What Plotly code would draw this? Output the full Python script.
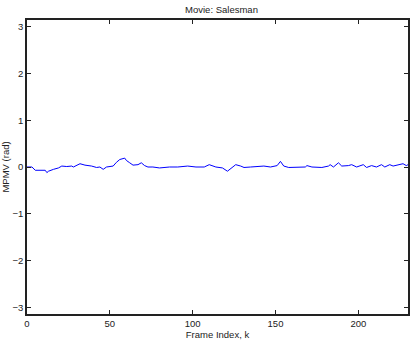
import plotly.graph_objects as go

frame_k = [0, 3, 5, 8, 11, 12, 13, 16, 19, 21, 24, 27, 28, 32, 35, 39, 42, 44, 46, 48,
           52, 54, 56, 59, 60, 62, 64, 67, 69, 71, 73, 76, 80, 86, 91, 97, 102, 107, 110,
           114, 118, 121, 124, 126, 129, 131, 135, 143, 147, 151, 153, 155, 158, 162, 168,
           169, 172, 178, 182, 183, 185, 188, 190, 194, 196, 199, 203, 205, 208, 211, 214,
           216, 219, 221, 224, 227, 229, 230]
mpmv = [0.0, 0.0, -0.07, -0.07, -0.07, -0.12, -0.09, -0.05, -0.02, 0.02, 0.01, 0.02, 0.0,
        0.07, 0.04, 0.02, -0.01, 0.0, -0.05, 0.0, 0.02, 0.10, 0.16, 0.19, 0.14, 0.09, 0.04,
        0.05, 0.09, 0.03, 0.0, 0.0, -0.02, 0.0, 0.0, 0.02, 0.0, 0.0, 0.05, 0.0, -0.02, -0.09,
        0.0, 0.05, 0.02, -0.01, 0.0, 0.02, 0.0, 0.03, 0.12, 0.02, -0.01, 0.0, 0.0, 0.03, 0.0,
        -0.01, 0.02, 0.05, 0.0, 0.09, 0.02, 0.03, 0.05, 0.0, 0.05, -0.01, 0.03, 0.0, 0.05,
        0.0, 0.05, 0.02, 0.04, 0.07, 0.03, 0.05]

x_ticks = [0, 50, 100, 150, 200]
y_ticks = [-3, -2, -1, 0, 1, 2, 3]
y_tick_text = ["\u22123", "\u22122", "\u22121", "0", "1", "2", "3"]

fig = go.Figure()
fig.add_trace(go.Scatter(x=frame_k, y=mpmv, mode="lines",
                         line=dict(color="#0000ff", width=1), showlegend=False))

axis_common = dict(showline=True, linecolor="#222222", linewidth=1.5, mirror="ticks",
                   ticks="inside", ticklen=4, tickcolor="#222222", showgrid=False,
                   zeroline=False, automargin=False, tickfont=dict(size=9.5, color="#222222"))

fig.update_layout(
    width=414, height=343,
    margin=dict(l=27, r=6, t=20, b=29),
    paper_bgcolor="white", plot_bgcolor="white",
    font=dict(family="Liberation Sans, Arial, sans-serif", size=9.5, color="#222222"),
    title=dict(text="Movie: Salesman", x=0.535, xanchor="center", y=0.972, yanchor="middle",
               font=dict(size=9.5)),
    xaxis=dict(range=[0, 230], tickvals=x_ticks,
               title=dict(text="Frame Index, k", standoff=1, font=dict(size=9.5)),
               **axis_common),
    yaxis=dict(range=[-3.14159, 3.14159], tickvals=y_ticks, ticktext=y_tick_text,
               title=dict(text="MPMV (rad)", standoff=3, font=dict(size=9.5)),
               **axis_common),
)

fig.write_html("out.html")
